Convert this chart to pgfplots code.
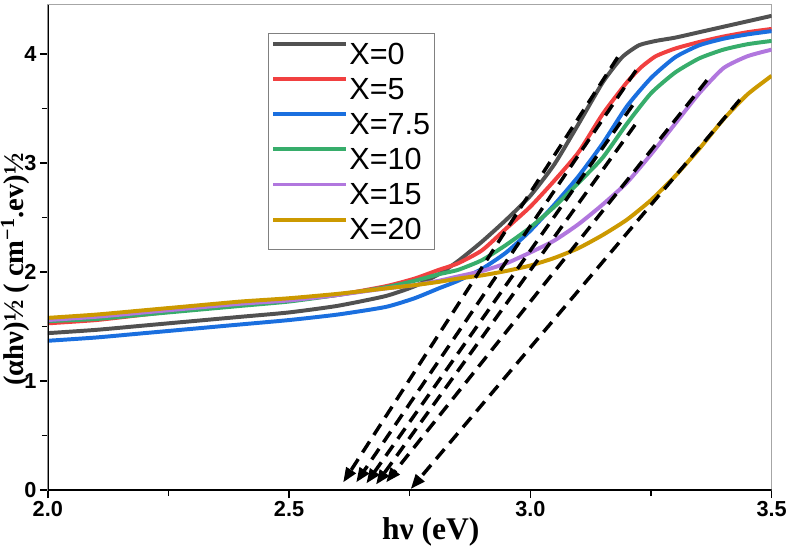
\documentclass[border=0pt]{standalone}
\usepackage{fontspec}
\setmainfont{Liberation Serif}
\setsansfont{Liberation Sans}
\usepackage{pgfplots}
\pgfplotsset{compat=1.18}
\usetikzlibrary{arrows.meta}
\definecolor{cK}{HTML}{515151}
\definecolor{cR}{HTML}{F14040}
\definecolor{cB}{HTML}{1A6FDF}
\definecolor{cG}{HTML}{37AD6B}
\definecolor{cP}{HTML}{B177DE}
\definecolor{cY}{HTML}{CC9900}
\pgfplotsset{tang/.style={black, solid, line width=3.5bp, dash pattern=on 13bp off 8bp, -{Triangle[length=15bp,width=11bp]}},
  crv/.style={line width=4bp, line join=round, smooth, tension=0.35}}
\begin{document}
\begin{tikzpicture}
\begin{axis}[
  scale only axis, width=731bp, height=490bp,
  xmin=2, xmax=3.5, ymin=0, ymax=4.45,
  xtick={2,2.5,3,3.5}, xticklabels={2.0,2.5,3.0,3.5},
  ytick={0,1,2,3,4},
  minor x tick num=1, minor y tick num=1,
  tick align=outside, xtick pos=left, ytick pos=left,
  major tick length=8bp, minor tick length=6bp,
  every tick/.style={black, line width=1.5bp},
  axis line style={draw=gray!70, line width=1bp},
  /pgf/number format/assume math mode=true,
  ticklabel style={font=\sffamily\bfseries\fontsize{22}{24}\selectfont},
  every axis x label/.style={at={(axis description cs:0.529,0)}, anchor=center, yshift=-42bp, inner sep=0pt, font=\bfseries\fontsize{32}{34}\selectfont},
  every axis y label/.style={at={(axis description cs:0,0.455)}, xshift=-33bp, rotate=90, anchor=center, inner sep=1bp, font=\bfseries\fontsize{29}{31}\selectfont},
  xlabel={hν (eV)},
  ylabel={(αhν)½ ( cm\textsuperscript{−1}.ev)½},
  legend style={at={(axis description cs:0.304,0.943)}, anchor=north west, draw=gray, line width=0.8bp,
    font=\sffamily\fontsize{31}{31}\selectfont, inner xsep=3bp, inner ysep=9bp, row sep=12bp,
    nodes={inner sep=1bp, text height=21bp, text depth=0bp}},
  legend cell align=left,
  legend image code/.code={\draw[#1, line width=4bp] (0bp,10bp) -- (74bp,10bp);},
]
\addplot[cK, crv] coordinates {(2.00,1.44)(2.10,1.47)(2.20,1.51)(2.30,1.55)(2.40,1.59)(2.50,1.63)(2.60,1.69)(2.70,1.78)(2.76,1.87)(2.81,1.98)(2.85,2.10)(2.90,2.28)(2.95,2.48)(3.00,2.70)(3.05,2.99)(3.10,3.36)(3.15,3.74)(3.19,3.97)(3.225,4.08)(3.26,4.12)(3.30,4.15)(3.35,4.20)(3.40,4.25)(3.45,4.30)(3.50,4.35)};
\addlegendentry{X=0}
\addplot[cR, crv] coordinates {(2.00,1.53)(2.10,1.56)(2.20,1.61)(2.30,1.66)(2.40,1.70)(2.50,1.74)(2.60,1.79)(2.70,1.87)(2.76,1.94)(2.81,2.02)(2.85,2.08)(2.90,2.20)(2.95,2.40)(3.00,2.60)(3.05,2.84)(3.10,3.10)(3.15,3.45)(3.20,3.74)(3.23,3.88)(3.26,3.98)(3.30,4.05)(3.35,4.11)(3.40,4.16)(3.45,4.20)(3.50,4.23)};
\addlegendentry{X=5}
\addplot[cB, crv] coordinates {(2.00,1.37)(2.10,1.40)(2.20,1.44)(2.30,1.48)(2.40,1.52)(2.50,1.56)(2.60,1.61)(2.70,1.68)(2.76,1.76)(2.81,1.85)(2.85,1.92)(2.90,2.03)(2.95,2.18)(3.00,2.38)(3.05,2.62)(3.10,2.88)(3.15,3.18)(3.20,3.52)(3.25,3.78)(3.30,3.97)(3.35,4.08)(3.40,4.14)(3.45,4.18)(3.50,4.21)};
\addlegendentry{X=7.5}
\addplot[cG, crv] coordinates {(2.00,1.55)(2.10,1.57)(2.20,1.61)(2.30,1.65)(2.40,1.69)(2.50,1.73)(2.60,1.79)(2.70,1.86)(2.76,1.92)(2.81,1.98)(2.85,2.02)(2.90,2.11)(2.95,2.25)(3.00,2.41)(3.05,2.60)(3.10,2.82)(3.15,3.05)(3.20,3.36)(3.25,3.64)(3.30,3.83)(3.35,3.96)(3.40,4.04)(3.45,4.09)(3.50,4.12)};
\addlegendentry{X=10}
\addplot[cP, crv] coordinates {(2.00,1.56)(2.10,1.59)(2.20,1.63)(2.30,1.67)(2.40,1.71)(2.50,1.74)(2.60,1.79)(2.70,1.85)(2.76,1.88)(2.81,1.92)(2.85,1.96)(2.90,2.01)(2.95,2.08)(3.00,2.18)(3.05,2.29)(3.10,2.44)(3.15,2.62)(3.20,2.82)(3.25,3.08)(3.30,3.36)(3.35,3.64)(3.40,3.87)(3.45,3.98)(3.50,4.04)};
\addlegendentry{X=15}
\addplot[cY, crv] coordinates {(2.00,1.58)(2.10,1.61)(2.20,1.65)(2.30,1.69)(2.40,1.73)(2.50,1.76)(2.60,1.80)(2.70,1.85)(2.76,1.88)(2.81,1.91)(2.85,1.94)(2.90,1.97)(2.95,2.01)(3.00,2.06)(3.05,2.13)(3.10,2.22)(3.15,2.34)(3.20,2.48)(3.25,2.66)(3.30,2.88)(3.35,3.13)(3.40,3.40)(3.45,3.63)(3.50,3.80)};
\addlegendentry{X=20}
\addplot[tang, forget plot] coordinates {(3.181,3.97)(2.612,0.07)};
\addplot[tang, forget plot] coordinates {(3.219,3.85)(2.639,0.07)};
\addplot[tang, forget plot] coordinates {(3.212,3.53)(2.660,0.06)};
\addplot[tang, forget plot] coordinates {(3.217,3.35)(2.680,0.05)};
\addplot[tang, forget plot] coordinates {(3.366,3.76)(2.701,0.07)};
\addplot[tang, forget plot] coordinates {(3.434,3.58)(2.752,0.01)};
\draw[black, line width=2bp] (rel axis cs:0,1) -- (rel axis cs:0,0) -- (rel axis cs:1,0);
\end{axis}
\path ([yshift=5bp]current axis.north);
\end{tikzpicture}
\end{document}
